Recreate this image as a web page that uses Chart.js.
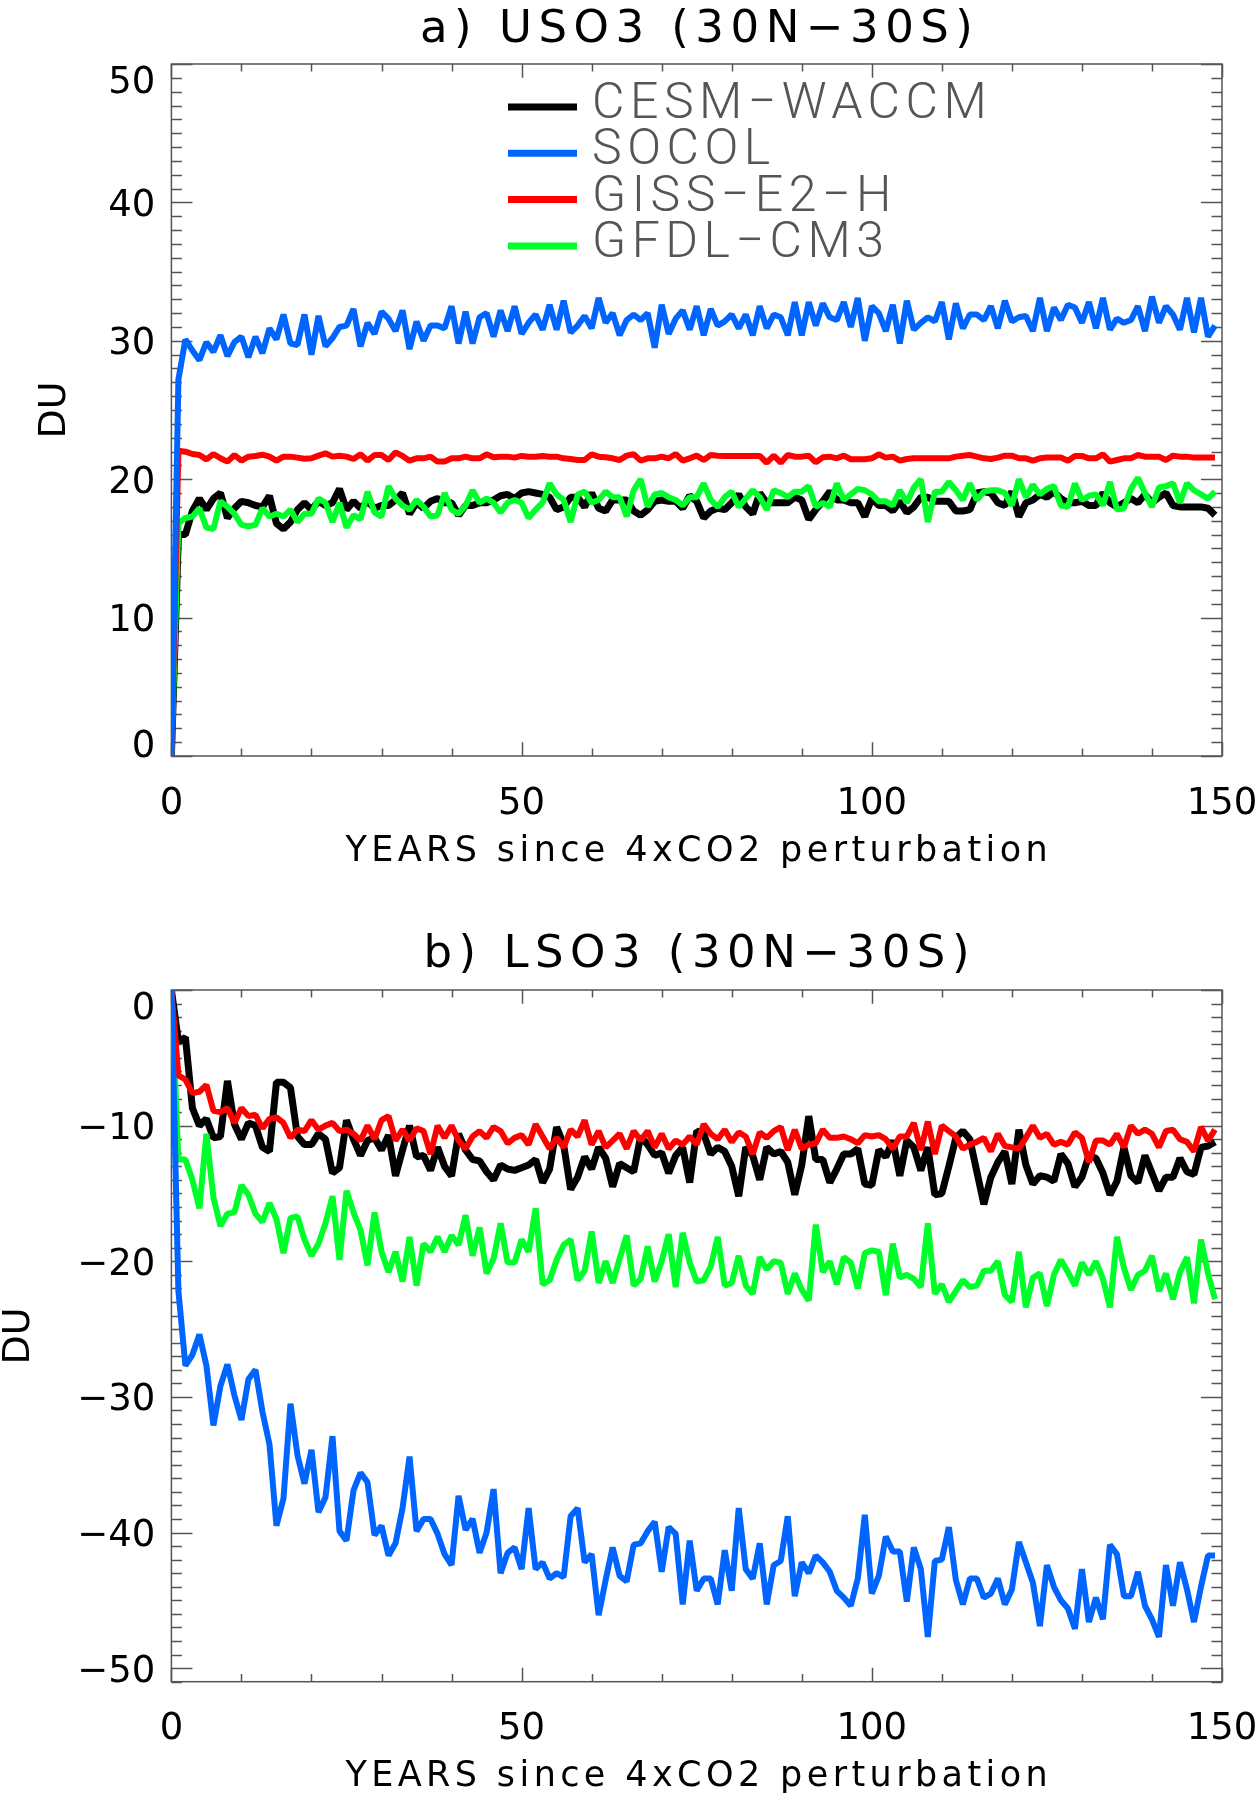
<!DOCTYPE html>
<html>
<head>
<meta charset="utf-8">
<script src="https://cdn.jsdelivr.net/npm/chart.js@4.4.1/dist/chart.umd.min.js"></script>
<style>
  html, body { margin: 0; padding: 0; background: #fff; }
  .panel { position: absolute; left: 0; width: 1256px; height: 900px; }
  #wrap-a { top: 0; }
  #wrap-b { top: 900px; }
</style>
</head>
<body>
<div class="panel" id="wrap-a"><canvas id="chart-a" width="1256" height="900"></canvas></div>
<div class="panel" id="wrap-b"><canvas id="chart-b" width="1256" height="900"></canvas></div>
<script>
const models = ['CESM\u2212WACCM', 'SOCOL', 'GISS\u2212E2\u2212H', 'GFDL\u2212CM3'];
const colors = ['#000000', '#0064ff', '#ff0000', '#00ff2a'];
const widths = [7, 6, 6, 6];
const drawOrder = [3, 0, 1, 2]; // SOCOL on top, CESM at the bottom

const xTicks = [0, 50, 100, 150];
const yTicksA = [0, 10, 20, 30, 40, 50];
const yTicksB = [0, -10, -20, -30, -40, -50];

// a) upper stratospheric ozone, DU, years 0..149
const usCesm = [0, 16.0, 16.0, 17.7, 18.6, 17.8, 18.6, 19.0, 17.2, 17.9, 18.4,
  18.3, 18.1, 18.0, 18.8, 16.8, 16.4, 16.9, 17.8, 18.3, 17.8,
  18.4, 18.1, 18.3, 19.3, 17.8, 18.4, 17.9, 18.4, 17.9, 18.1,
  18.1, 18.5, 19.0, 17.5, 18.3, 17.9, 18.4, 18.6, 18.3, 18.3,
  17.4, 18.1, 18.1, 18.3, 18.3, 18.5, 18.8, 18.9, 18.6, 19.0,
  19.1, 19.0, 18.9, 18.7, 17.8, 18.0, 18.7, 18.7, 18.0, 19.0,
  17.9, 17.7, 18.5, 18.5, 18.5, 17.7, 17.4, 17.8, 18.4, 18.5,
  18.4, 18.4, 17.9, 18.8, 18.4, 17.2, 17.7, 17.9, 17.8, 18.3,
  18.9, 18.0, 17.5, 19.0, 18.3, 18.3, 18.3, 18.3, 18.7, 18.5,
  17.1, 17.8, 18.4, 19.1, 18.5, 18.5, 18.3, 18.3, 17.3, 18.6,
  18.1, 18.1, 17.7, 18.4, 17.6, 18.0, 18.7, 18.7, 18.4, 18.4,
  18.4, 17.7, 17.7, 17.8, 19.0, 19.1, 19.0, 18.3, 18.1, 19.1,
  17.3, 18.3, 18.5, 18.9, 18.7, 19.1, 18.6, 18.3, 18.3, 18.4,
  18.1, 18.1, 19.0, 18.3, 18.0, 18.3, 18.6, 18.3, 18.9, 18.3,
  18.7, 19.0, 18.1, 18.0, 18.0, 18.0, 18.0, 17.9, 17.4];
const usSocol = [0, 27.2, 30.1, 29.3, 28.6, 29.9, 29.2, 30.4, 28.9, 29.9, 30.3,
  28.8, 30.3, 29.1, 30.9, 30.1, 31.9, 29.8, 29.7, 31.9, 29.0,
  31.8, 29.6, 30.2, 31.0, 31.1, 32.3, 29.6, 31.3, 30.5, 32.1,
  31.6, 30.7, 32.2, 29.4, 31.4, 30.0, 31.1, 31.1, 30.9, 32.5,
  29.8, 32.1, 29.8, 31.7, 32.0, 30.3, 32.2, 30.7, 32.5, 30.5,
  31.3, 31.9, 30.8, 32.6, 30.8, 32.9, 30.6, 31.1, 31.8, 30.9,
  33.1, 31.3, 32.0, 30.4, 31.5, 31.9, 31.5, 32.0, 29.5, 32.6,
  30.5, 31.6, 32.2, 30.8, 32.5, 30.4, 32.3, 31.1, 31.4, 31.9,
  30.9, 31.9, 30.4, 32.5, 30.9, 31.9, 31.7, 30.4, 32.8, 30.4,
  32.8, 31.1, 32.7, 31.7, 31.5, 32.8, 31.0, 33.1, 30.0, 32.5,
  32.0, 30.7, 32.6, 29.8, 32.9, 30.8, 31.3, 31.7, 31.4, 32.8,
  30.1, 32.7, 30.9, 31.9, 31.9, 31.5, 32.5, 30.9, 32.9, 31.4,
  31.7, 31.8, 30.7, 33.1, 30.7, 32.4, 31.5, 32.6, 32.4, 31.3,
  32.8, 30.9, 33.1, 30.8, 31.6, 31.3, 31.5, 32.5, 30.7, 33.2,
  31.3, 32.5, 31.9, 30.8, 33.1, 30.6, 33.1, 30.3, 31.1];
const usGiss = [0, 22.06, 21.99, 21.82, 21.75, 21.43, 21.82, 21.51, 21.27, 21.75, 21.34,
  21.63, 21.68, 21.77, 21.63, 21.34, 21.63, 21.63, 21.56, 21.48, 21.51,
  21.70, 21.87, 21.63, 21.70, 21.63, 21.46, 21.80, 21.34, 21.75, 21.75,
  21.39, 21.94, 21.68, 21.34, 21.51, 21.51, 21.63, 21.27, 21.27, 21.51,
  21.51, 21.63, 21.51, 21.51, 21.80, 21.58, 21.63, 21.63, 21.56, 21.68,
  21.63, 21.63, 21.68, 21.63, 21.63, 21.51, 21.46, 21.39, 21.39, 21.80,
  21.63, 21.58, 21.51, 21.39, 21.70, 21.80, 21.34, 21.51, 21.51, 21.63,
  21.51, 21.82, 21.34, 21.51, 21.70, 21.39, 21.75, 21.70, 21.68, 21.68,
  21.68, 21.68, 21.68, 21.68, 21.19, 21.70, 21.19, 21.75, 21.63, 21.63,
  21.70, 21.22, 21.58, 21.63, 21.51, 21.70, 21.44, 21.44, 21.44, 21.51,
  21.80, 21.56, 21.63, 21.34, 21.46, 21.51, 21.51, 21.51, 21.51, 21.51,
  21.51, 21.63, 21.70, 21.75, 21.63, 21.51, 21.46, 21.56, 21.70, 21.70,
  21.51, 21.51, 21.34, 21.51, 21.56, 21.56, 21.56, 21.34, 21.68, 21.68,
  21.51, 21.51, 21.80, 21.27, 21.39, 21.51, 21.51, 21.75, 21.63, 21.63,
  21.63, 21.39, 21.70, 21.63, 21.63, 21.56, 21.56, 21.56, 21.56];
const usGfdl = [0, 16.8, 17.2, 17.3, 17.9, 16.5, 16.4, 18.4, 18.0, 17.5, 16.7,
  16.6, 16.7, 17.9, 17.3, 17.5, 17.3, 17.8, 16.9, 17.5, 17.5,
  18.6, 18.3, 16.9, 18.3, 16.5, 17.4, 17.1, 19.1, 17.6, 17.3,
  19.5, 18.6, 18.1, 17.8, 18.5, 18.0, 17.3, 17.4, 19.0, 17.8,
  17.5, 18.1, 19.2, 18.3, 18.6, 18.3, 17.6, 18.3, 18.5, 18.3,
  17.2, 17.8, 18.3, 19.7, 18.9, 18.5, 16.9, 18.9, 19.1, 18.3,
  18.5, 19.1, 18.7, 18.7, 17.3, 19.2, 20.0, 18.0, 18.9, 19.0,
  18.7, 18.5, 18.1, 18.7, 18.7, 19.7, 18.5, 18.0, 18.7, 19.1,
  18.0, 18.6, 19.2, 18.7, 17.8, 19.2, 19.0, 18.7, 19.1, 19.1,
  19.5, 18.0, 18.3, 18.0, 19.7, 18.5, 18.9, 19.3, 19.2, 18.9,
  18.4, 18.4, 18.1, 19.2, 18.3, 19.4, 20.0, 16.9, 19.1, 19.1,
  19.8, 19.2, 18.5, 19.7, 18.5, 19.1, 19.2, 19.2, 19.0, 18.1,
  20.0, 18.7, 19.6, 18.9, 19.3, 19.5, 18.1, 18.0, 19.7, 18.5,
  18.8, 18.9, 18.1, 19.8, 17.8, 17.9, 19.3, 20.1, 19.0, 18.0,
  19.4, 19.5, 19.7, 18.3, 19.7, 19.2, 18.9, 18.6, 19.1];

// b) lower stratospheric ozone, DU, years 0..149
const lsCesm = [0, -3.8, -3.5, -8.7, -10.0, -9.5, -10.9, -10.8, -6.7, -9.9, -11.0,
  -9.8, -10.0, -11.6, -11.9, -6.8, -6.8, -7.2, -10.8, -11.4, -11.4,
  -10.6, -11.0, -13.5, -13.1, -9.6, -11.0, -12.2, -11.1, -10.9, -11.8,
  -10.7, -13.7, -11.8, -10.0, -12.3, -12.2, -13.3, -11.6, -13.0, -13.7,
  -10.6, -11.8, -12.5, -12.6, -13.4, -14.0, -12.9, -13.2, -13.3, -13.1,
  -12.9, -12.5, -14.2, -13.2, -10.1, -11.4, -14.7, -13.8, -12.3, -13.2,
  -11.6, -12.4, -14.5, -12.8, -13.1, -13.4, -10.8, -11.4, -12.2, -12.0,
  -13.5, -12.2, -11.6, -14.2, -10.4, -10.6, -12.1, -11.6, -11.9, -13.0,
  -15.2, -11.6, -12.2, -14.0, -11.6, -12.1, -11.9, -12.7, -15.1, -12.9,
  -9.3, -12.5, -12.5, -14.2, -13.2, -12.1, -12.1, -11.7, -14.3, -14.4,
  -11.8, -12.3, -11.1, -13.7, -11.1, -11.6, -13.3, -11.6, -15.1, -15.0,
  -13.0, -10.9, -10.4, -11.0, -13.4, -15.8, -13.8, -12.7, -11.9, -14.3,
  -10.3, -12.9, -14.3, -13.7, -13.8, -14.1, -12.1, -12.8, -14.5, -13.8,
  -12.2, -12.4, -13.5, -15.1, -14.1, -11.6, -13.7, -14.2, -12.2, -13.5,
  -14.8, -13.8, -13.8, -12.4, -13.4, -13.6, -11.6, -11.5, -11.2];
const lsSocol = [0, -22.2, -27.7, -26.9, -25.4, -27.7, -32.1, -29.2, -27.6, -29.9, -31.7,
  -28.7, -28.0, -31.1, -33.5, -39.5, -37.5, -30.5, -34.3, -36.4, -33.9,
  -38.5, -37.4, -32.9, -39.9, -40.6, -36.9, -35.6, -36.3, -40.2, -39.5,
  -41.7, -40.8, -38.2, -34.4, -39.9, -39.0, -39.0, -40.1, -41.6, -42.4,
  -37.3, -39.8, -39.0, -41.5, -40.0, -36.8, -43.0, -41.5, -41.1, -42.7,
  -38.2, -42.7, -42.2, -43.4, -43.0, -43.3, -38.8, -38.2, -42.2, -41.6,
  -46.1, -43.5, -41.1, -43.2, -43.6, -40.9, -40.8, -39.9, -39.2, -42.9,
  -39.6, -40.1, -45.3, -40.6, -44.3, -43.4, -43.4, -45.3, -41.3, -44.3,
  -38.2, -42.7, -43.4, -40.8, -45.3, -42.4, -42.1, -38.8, -44.7, -42.2,
  -43.0, -41.7, -42.2, -42.9, -44.3, -44.8, -45.4, -43.4, -38.7, -44.5,
  -43.2, -40.3, -41.4, -41.4, -45.1, -41.1, -42.7, -47.7, -42.1, -42.0,
  -39.6, -43.5, -45.3, -43.4, -43.4, -44.8, -44.5, -43.4, -45.3, -44.2,
  -40.7, -42.2, -43.7, -46.9, -42.4, -44.0, -45.0, -45.6, -47.1, -42.7,
  -46.6, -44.8, -46.4, -40.9, -41.6, -44.7, -44.7, -42.9, -45.4, -46.4,
  -47.7, -42.4, -45.4, -42.2, -44.2, -46.6, -44.0, -41.7, -41.7];
const lsGiss = [0, -6.3, -6.6, -7.6, -7.5, -7.0, -8.9, -9.0, -8.7, -9.8, -8.7,
  -9.3, -9.2, -10.2, -9.5, -9.4, -9.8, -10.9, -10.3, -10.4, -9.6,
  -10.3, -10.0, -9.8, -10.4, -10.3, -10.6, -11.1, -10.0, -11.0, -9.6,
  -9.3, -11.1, -10.3, -11.1, -10.2, -10.4, -12.1, -10.0, -10.9, -10.0,
  -11.1, -11.7, -10.8, -10.4, -10.9, -10.1, -10.4, -11.3, -10.9, -10.7,
  -11.4, -9.9, -10.8, -11.7, -10.9, -11.6, -10.3, -10.8, -9.6, -11.4,
  -10.4, -11.6, -11.1, -10.6, -11.7, -10.4, -11.1, -10.4, -11.6, -10.6,
  -11.7, -11.1, -11.4, -10.8, -11.4, -9.9, -10.6, -11.0, -10.3, -11.2,
  -10.5, -10.8, -12.1, -10.5, -10.9, -10.4, -10.1, -11.8, -10.3, -11.7,
  -11.4, -11.3, -10.3, -10.9, -10.9, -10.8, -11.0, -11.3, -10.7, -10.8,
  -10.7, -11.0, -11.7, -10.8, -10.8, -9.8, -11.8, -9.7, -12.1, -10.0,
  -10.4, -10.8, -11.7, -11.4, -11.2, -10.9, -11.9, -10.6, -11.5, -11.6,
  -11.7, -10.9, -10.0, -10.9, -10.6, -11.4, -11.2, -11.4, -10.5, -10.9,
  -12.7, -11.1, -11.1, -11.4, -10.6, -11.6, -10.0, -10.6, -10.3, -10.6,
  -11.6, -10.4, -10.3, -11.0, -11.2, -11.9, -10.1, -11.1, -10.3];
const lsGfdl = [0, -12.5, -12.5, -14.0, -16.1, -10.6, -15.3, -17.4, -16.5, -16.4, -14.4,
  -15.1, -16.5, -17.1, -15.7, -16.9, -19.4, -16.8, -16.7, -18.4, -19.6,
  -18.7, -17.2, -15.2, -19.9, -14.8, -16.4, -17.7, -20.3, -16.4, -19.3,
  -20.8, -19.3, -21.5, -18.2, -21.8, -18.7, -19.3, -18.2, -19.3, -18.1,
  -18.8, -16.6, -19.6, -17.5, -20.9, -19.8, -17.2, -20.1, -20.1, -18.4,
  -19.3, -16.1, -21.7, -21.4, -19.9, -18.8, -18.4, -21.4, -20.7, -17.8,
  -21.6, -20.0, -21.6, -19.8, -18.1, -21.8, -21.3, -18.9, -21.5, -20.0,
  -18.0, -21.9, -17.9, -20.1, -21.5, -21.4, -20.4, -18.2, -21.8, -21.6,
  -19.6, -21.8, -22.4, -19.7, -20.6, -20.0, -20.1, -22.4, -20.9, -22.1,
  -22.9, -17.3, -20.8, -20.0, -21.7, -19.7, -20.1, -22.0, -19.4, -19.2,
  -19.3, -22.5, -18.7, -21.2, -21.0, -21.3, -21.9, -17.2, -22.4, -21.7,
  -23.0, -22.2, -21.4, -21.9, -21.8, -20.7, -20.7, -20.0, -22.5, -23.0,
  -19.3, -23.4, -21.2, -20.9, -23.3, -21.0, -19.9, -20.8, -21.8, -20.1,
  -21.0, -20.0, -21.3, -23.4, -18.2, -20.5, -22.1, -21.0, -20.7, -19.6,
  -22.2, -20.9, -22.8, -20.8, -19.7, -23.1, -18.4, -20.9, -22.8];

const years = usCesm.map((_, i) => i);

const FONT = '"DejaVu Sans", sans-serif';
const CAP = 0.365; // half cap height of DejaVu, in em

// IDL-style frame: box, inward ticks on all four sides, labels, titles
const idlFrame = {
  id: 'idlFrame',
  beforeDatasetsDraw(chart, args, o) {
    const { ctx, chartArea: a, scales: { x, y } } = chart;
    const w = a.right - a.left, h = a.bottom - a.top;
    ctx.save();
    ctx.strokeStyle = '#555';
    ctx.lineWidth = 1.5;
    ctx.strokeRect(a.left, a.top, w, h);
    ctx.beginPath();
    for (let v = x.min; v <= x.max; v += 10) {
      const px = Math.round(x.getPixelForValue(v)) + 0.5;
      const len = v % 50 === 0 ? 0.02 * h : 0.011 * h;
      ctx.moveTo(px, a.bottom); ctx.lineTo(px, a.bottom - len);
      ctx.moveTo(px, a.top); ctx.lineTo(px, a.top + len);
    }
    for (let v = Math.ceil(y.min); v <= y.max; v += 1) {
      const py = Math.round(y.getPixelForValue(v)) + 0.5;
      const len = v % 10 === 0 ? 0.02 * w : 0.01 * w;
      ctx.moveTo(a.left, py); ctx.lineTo(a.left + len, py);
      ctx.moveTo(a.right, py); ctx.lineTo(a.right - len, py);
    }
    ctx.stroke();

    ctx.fillStyle = '#000';
    ctx.font = `37px ${FONT}`;
    ctx.textAlign = 'center';
    xTicks.forEach(v => ctx.fillText(String(v), x.getPixelForValue(v), a.bottom + 44 + CAP * 37));
    ctx.textAlign = 'right';
    o.yTicks.forEach(v => {
      const c = Math.min(Math.max(y.getPixelForValue(v), a.top + 15), a.bottom - 13);
      ctx.fillText(String(v).replace('-', '\u2212'), a.left - 16, c + CAP * 37);
    });

    ctx.textAlign = 'center';
    ctx.font = `45px ${FONT}`;
    ctx.letterSpacing = '6.5px';
    ctx.fillText(o.title, (a.left + a.right) / 2 + 3, a.top - o.titleGap + CAP * 45);
    ctx.font = `35px ${FONT}`;
    ctx.letterSpacing = '4.4px';
    ctx.fillText('YEARS since 4xCO2 perturbation', (a.left + a.right) / 2 + 2, a.bottom + 92 + CAP * 35);
    ctx.letterSpacing = '0px';

    ctx.save();
    ctx.translate(o.duX, (a.top + a.bottom) / 2);
    ctx.rotate(-Math.PI / 2);
    ctx.font = `38px ${FONT}`;
    ctx.fillText('DU', 0, CAP * 38);
    ctx.restore();

    if (o.legend) {
      models.forEach((m, i) => {
        const ly = a.top + 43 + i * 46.3;
        ctx.strokeStyle = colors[i];
        ctx.lineWidth = 7;
        ctx.beginPath();
        ctx.moveTo(508, ly); ctx.lineTo(577, ly);
        ctx.stroke();
        ctx.fillStyle = '#555';
        ctx.textAlign = 'left';
        ctx.font = '300 50px Roboto, sans-serif';
        ctx.letterSpacing = '5.5px';
        ctx.fillText(m, 592, ly - 7 + 18);
      });
    }
    ctx.restore();
  }
};

const makePanel = (id, series, p) => new Chart(document.getElementById(id), {
  type: 'line',
  data: {
    labels: years,
    datasets: series.map((s, i) => ({
      label: models[i], data: s, borderColor: colors[i], borderWidth: widths[i],
      pointRadius: 0, tension: 0, borderJoinStyle: 'bevel', order: drawOrder[i]
    }))
  },
  options: {
    responsive: false, animation: false, events: [],
    layout: { padding: { left: 171.4, right: 34, top: p.top, bottom: 900 - p.bottom } },
    scales: {
      x: { type: 'linear', display: false, min: 0, max: 150 },
      y: { type: 'linear', display: false, min: p.yMin, max: p.yMax }
    },
    plugins: {
      legend: { display: false },
      tooltip: { enabled: false },
      idlFrame: { title: p.title, titleGap: p.titleGap, yTicks: p.yTicks, duX: p.duX, legend: p.legend }
    }
  },
  plugins: [idlFrame]
});

makePanel('chart-a', [usCesm, usSocol, usGiss, usGfdl],
  { top: 64, bottom: 756, yMin: 0, yMax: 50, yTicks: yTicksA, title: 'a) USO3 (30N\u221230S)', titleGap: 38, duX: 51, legend: true });
makePanel('chart-b', [lsCesm, lsSocol, lsGiss, lsGfdl],
  { top: 90, bottom: 781.7, yMin: -51, yMax: 0, yTicks: yTicksB, title: 'b) LSO3 (30N\u221230S)', titleGap: 39.5, duX: 15, legend: false });
</script>
</body>
</html>
